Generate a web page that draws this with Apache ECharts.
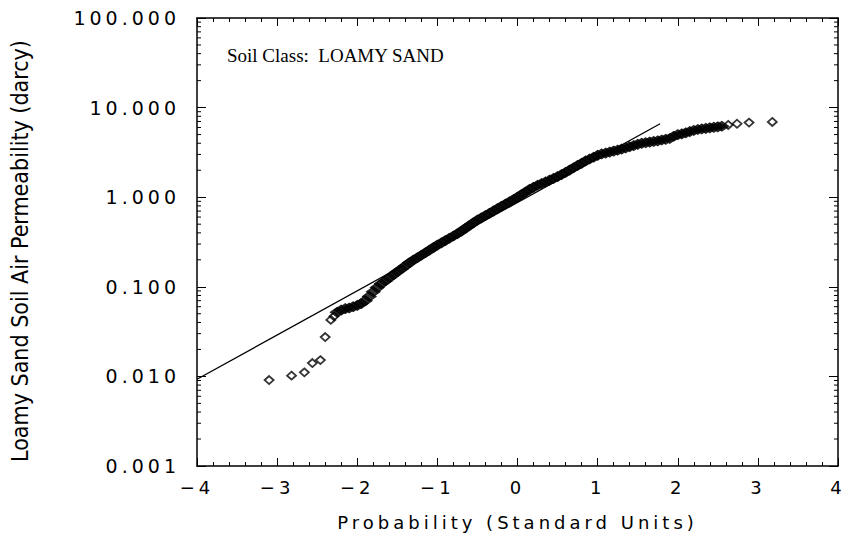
<!DOCTYPE html>
<html>
<head>
<meta charset="utf-8">
<script src="https://cdn.jsdelivr.net/npm/echarts@6/dist/echarts.min.js"></script>
<style>
  html, body { margin: 0; padding: 0; background: #fff; }
  #chart { width: 848px; height: 542px; }
  /* the plotter font in the original is widely spaced */
  #chart text { letter-spacing: 4px; }
  #chart text[style*="Liberation"], #chart text[style*="Condensed"], #chart text[style*="Roboto"] { letter-spacing: 0; }
</style>
</head>
<body>
<div id="chart"></div>
<script>
// normal scores (standard units) and observed permeability (darcy)
const probX = [
  -3.10, -2.82, -2.66, -2.56, -2.46, -2.40, -2.33, -2.29,
  -2.25, -2.20, -2.15, -2.10, -2.05, -2.00, -1.95, -1.90, -1.85, -1.80,
  -1.75, -1.70, -1.65, -1.60, -1.55, -1.50, -1.45, -1.40, -1.35, -1.30,
  -1.25, -1.20, -1.15, -1.10, -1.05, -1.00, -0.95, -0.90, -0.85, -0.80,
  -0.75, -0.70, -0.65, -0.60, -0.55, -0.50, -0.45, -0.40, -0.35, -0.30,
  -0.25, -0.20, -0.15, -0.10, -0.05, 0.00, 0.05, 0.10, 0.15, 0.20,
  0.25, 0.30, 0.35, 0.40, 0.45, 0.50, 0.55, 0.60, 0.65, 0.70,
  0.75, 0.80, 0.85, 0.90, 0.95, 1.00, 1.05, 1.10, 1.15, 1.20,
  1.25, 1.30, 1.35, 1.40, 1.45, 1.50, 1.55, 1.60, 1.65, 1.70,
  1.75, 1.80, 1.85, 1.90, 1.95, 2.00, 2.05, 2.10, 2.15, 2.20,
  2.25, 2.30, 2.35, 2.40, 2.45, 2.50, 2.55,
  2.63, 2.74, 2.89, 3.18
];
const permY = [
  0.0091, 0.0102, 0.0111, 0.0141, 0.0152, 0.0275, 0.0427, 0.0468,
  0.052, 0.055, 0.057, 0.058, 0.060, 0.062, 0.065, 0.070, 0.078, 0.088,
  0.098, 0.108, 0.116, 0.126, 0.136, 0.147, 0.158, 0.171, 0.185, 0.198,
  0.211, 0.225, 0.240, 0.256, 0.273, 0.292, 0.309, 0.328, 0.348, 0.369,
  0.392, 0.418, 0.449, 0.482, 0.518, 0.556, 0.589, 0.625, 0.662, 0.703,
  0.745, 0.791, 0.838, 0.889, 0.942, 1.00, 1.07, 1.14, 1.22, 1.29,
  1.36, 1.42, 1.48, 1.55, 1.62, 1.70, 1.79, 1.89, 2.01, 2.13,
  2.26, 2.39, 2.54, 2.67, 2.79, 2.93, 3.04, 3.11, 3.19, 3.27,
  3.35, 3.44, 3.54, 3.66, 3.77, 3.89, 3.99, 4.06, 4.12, 4.19,
  4.26, 4.35, 4.42, 4.52, 4.79, 4.99, 5.09, 5.23, 5.40, 5.56,
  5.70, 5.78, 5.86, 5.94, 6.03, 6.10, 6.19,
  6.40, 6.60, 6.80, 6.92
];
// the dense middle of the sample overprints into a solid band
const bandFrom = 8;
const bandTo = probX.length - 4;

// fitted log-normal line, end points
const fitX = [-4, 1.78];
const fitY = [0.0093, 6.6];

const xTicks = [-4, -3, -2, -1, 0, 1, 2, 3, 4];
const yTicks = [0.001, 0.01, 0.1, 1, 10, 100];

// log minor ticks 2..9 within each decade
const yMinor = [];
yTicks.slice(0, -1).forEach(d => {
  for (let m = 2; m <= 9; m++) yMinor.push(+(d * m).toPrecision(3));
});

const yName = 'Loamy Sand Soil Air Permeability (darcy)';

// pick a narrow face that is really installed and size it to the original length
function pickNameFont(text, target, maxSize) {
  const ctx = document.createElement('canvas').getContext('2d');
  const fams = ["'Liberation Sans Narrow'", "'DejaVu Sans Condensed'", "'Roboto Condensed'", "'Liberation Sans'"];
  for (const fam of fams) {
    ctx.font = `100px ${fam}, monospace`;
    const a = ctx.measureText(text).width;
    ctx.font = `100px ${fam}, serif`;
    const b = ctx.measureText(text).width;
    if (Math.abs(a - b) < 0.5) {
      return { fam, size: Math.min(maxSize, Math.floor(100 * target / a)) };
    }
  }
  return { fam: "'Liberation Sans'", size: 19 };
}
const nameFont = pickNameFont(yName, 428, 24);

const tickFont = 'DejaVu Sans';
const chart = echarts.init(document.getElementById('chart'), null, { renderer: 'svg' });

const axisCommon = {
  axisLine: { show: true, onZero: false, lineStyle: { color: '#000', width: 1.5 } },
  splitLine: { show: false },
};

const option = {
  animation: false,
  backgroundColor: '#fff',
  title: {
    text: 'Soil Class:  LOAMY SAND',
    left: 222,
    top: 41,
    textStyle: { fontFamily: 'Liberation Serif', fontSize: 19, fontWeight: 'normal', color: '#000' },
  },
  grid: { left: 197, right: 10, top: 18, bottom: 76 },
  xAxis: [
    {
      ...axisCommon,
      type: 'value',
      position: 'bottom',
      min: xTicks[0],
      max: xTicks[xTicks.length - 1],
      interval: 1,
      axisTick: { inside: true, length: 8, lineStyle: { color: '#000' } },
      minorTick: { show: true, splitNumber: 5, length: 4, lineStyle: { color: '#000' } },
      axisLabel: {
        margin: 12,
        color: '#000',
        fontFamily: tickFont,
        fontSize: 18,
        formatter: v => (v < 0 ? '\u2212' + Math.abs(v) : String(v)),
      },
      name: 'Probability (Standard Units)',
      nameLocation: 'middle',
      nameGap: 47,
      nameTextStyle: { color: '#000', fontFamily: tickFont, fontSize: 18 },
    },
    {
      ...axisCommon,
      type: 'value',
      position: 'top',
      min: xTicks[0],
      max: xTicks[xTicks.length - 1],
      interval: 1,
      axisTick: { inside: true, length: 8, lineStyle: { color: '#000' } },
      minorTick: { show: true, splitNumber: 5, length: 4, lineStyle: { color: '#000' } },
      axisLabel: { show: false },
    },
  ],
  yAxis: [
    {
      ...axisCommon,
      type: 'log',
      logBase: 10,
      position: 'left',
      min: yTicks[0],
      max: yTicks[yTicks.length - 1],
      axisTick: { inside: true, length: 9, lineStyle: { color: '#000' } },
      axisLabel: {
        margin: 17,
        color: '#000',
        fontFamily: tickFont,
        fontSize: 19,
        formatter: v => v.toFixed(3),
      },
      name: yName,
      nameLocation: 'middle',
      nameGap: 166,
      nameTextStyle: {
        color: '#000',
        fontFamily: nameFont.fam,
        fontSize: nameFont.size,
        padding: [0, 18, 0, 0],
      },
    },
    {
      ...axisCommon,
      type: 'log',
      logBase: 10,
      position: 'right',
      min: yTicks[0],
      max: yTicks[yTicks.length - 1],
      axisTick: { inside: true, length: 9, lineStyle: { color: '#000' } },
      axisLabel: { show: false },
    },
  ],
  series: [
    {
      name: 'fit',
      type: 'line',
      data: fitX.map((x, i) => [x, fitY[i]]),
      showSymbol: false,
      lineStyle: { color: '#000', width: 1.3 },
      silent: true,
    },
    {
      name: 'observed',
      type: 'scatter',
      data: probX.map((x, i) => [x, permY[i]]).filter((_, i) => i < bandFrom || i >= bandTo),
      symbol: 'diamond',
      symbolSize: [9, 8],
      itemStyle: { color: 'transparent', borderColor: '#000', borderWidth: 1.8 },
      silent: true,
    },
    {
      name: 'observed',
      type: 'scatter',
      data: probX.map((x, i) => [x, permY[i]]).slice(bandFrom, bandTo),
      symbol: 'diamond',
      symbolSize: [14, 10],
      itemStyle: { color: '#000', borderColor: '#000', borderWidth: 1 },
      silent: true,
    },
    {
      // minor log ticks on left and right frame
      name: 'yMinor',
      type: 'custom',
      data: yMinor.map(v => [xTicks[0], v]),
      silent: true,
      renderItem: (params, api) => {
        const p = api.coord([xTicks[0], api.value(1)]);
        const q = api.coord([xTicks[xTicks.length - 1], api.value(1)]);
        const style = { stroke: '#000', lineWidth: 1 };
        return {
          type: 'group',
          children: [
            { type: 'line', shape: { x1: p[0], y1: p[1], x2: p[0] + 4, y2: p[1] }, style },
            { type: 'line', shape: { x1: q[0] - 4, y1: q[1], x2: q[0], y2: q[1] }, style },
          ],
        };
      },
    },
  ],
};

chart.setOption(option);
window.addEventListener('resize', () => chart.resize());
</script>
</body>
</html>
